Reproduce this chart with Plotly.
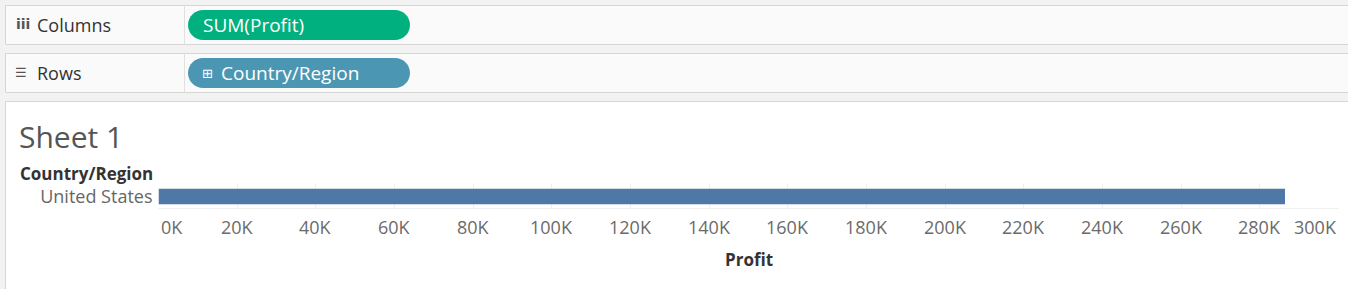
import plotly.graph_objects as go

# ---- data ----
countries = ["United States"]
profit = [286397]
tick_values = [0, 20000, 40000, 60000, 80000, 100000, 120000, 140000,
               160000, 180000, 200000, 220000, 240000, 260000, 280000, 300000]
tick_labels = ["0K", "20K", "40K", "60K", "80K", "100K", "120K", "140K",
               "160K", "180K", "200K", "220K", "240K", "260K", "280K", "300K"]

W, H = 1348, 289
FONT = "Open Sans"


def X(px):
    return px / W


def Y(py):
    return 1 - py / H


def rounded_path(x0, y0, x1, y1, r):
    k = 0.5523 * r
    pts = []
    pts.append(f"M {X(x0 + r)},{Y(y0)}")
    pts.append(f"L {X(x1 - r)},{Y(y0)}")
    pts.append(f"C {X(x1 - r + k)},{Y(y0)} {X(x1)},{Y(y0 + r - k)} {X(x1)},{Y(y0 + r)}")
    pts.append(f"L {X(x1)},{Y(y1 - r)}")
    pts.append(f"C {X(x1)},{Y(y1 - r + k)} {X(x1 - r + k)},{Y(y1)} {X(x1 - r)},{Y(y1)}")
    pts.append(f"L {X(x0 + r)},{Y(y1)}")
    pts.append(f"C {X(x0 + r - k)},{Y(y1)} {X(x0)},{Y(y1 - r + k)} {X(x0)},{Y(y1 - r)}")
    pts.append(f"L {X(x0)},{Y(y0 + r)}")
    pts.append(f"C {X(x0)},{Y(y0 + r - k)} {X(x0 + r - k)},{Y(y0)} {X(x0 + r)},{Y(y0)}")
    pts.append("Z")
    return " ".join(pts)


fig = go.Figure()
fig.add_trace(go.Bar(
    x=profit, y=countries, orientation="h",
    marker=dict(color="#4e79a7", line=dict(width=0)),
    width=0.62, hoverinfo="skip",
))

BORDER = "#d6d6d6"
shapes = []
# shelves
for (t, b) in [(5, 44), (53, 92)]:
    shapes.append(dict(type="rect", xref="paper", yref="paper",
                       x0=X(5.5), x1=X(1360), y0=Y(t + 0.5), y1=Y(b + 0.5),
                       fillcolor="#fafafa", line=dict(color=BORDER, width=1), layer="below"))
    shapes.append(dict(type="line", xref="paper", yref="paper",
                       x0=X(184.5), x1=X(184.5), y0=Y(t + 0.5), y1=Y(b + 0.5),
                       line=dict(color="#e0e0e0", width=1)))
# sheet panel
shapes.append(dict(type="rect", xref="paper", yref="paper",
                   x0=X(5.5), x1=X(1360), y0=Y(101.5), y1=Y(300),
                   fillcolor="#ffffff", line=dict(color=BORDER, width=1), layer="below"))
# pills
shapes.append(dict(type="path", xref="paper", yref="paper",
                   path=rounded_path(188, 10, 410, 40, 15),
                   fillcolor="#00b17f", line=dict(width=0)))
shapes.append(dict(type="path", xref="paper", yref="paper",
                   path=rounded_path(188, 58, 410, 88, 15),
                   fillcolor="#4b97b3", line=dict(width=0)))

annotations = []


def txt(text, x, y, size, color, xanchor="left", bold=False, family=FONT):
    annotations.append(dict(
        text=f"<b>{text}</b>" if bold else text,
        xref="paper", yref="paper", x=X(x), y=Y(y),
        xanchor=xanchor, yanchor="middle", showarrow=False,
        font=dict(family=family, size=size, color=color)))


txt("iii", 14, 24, 14, "#555", bold=True, family="DejaVu Sans")
txt("Columns", 35, 25, 18, "#333")
txt("☰", 13, 72, 13, "#555", family="DejaVu Sans")
txt("Rows", 35, 73, 18, "#333")
txt("SUM(Profit)", 201, 25, 19, "#ffffff")
txt("⊞", 200, 73, 13, "#ffffff", family="DejaVu Sans")
txt("Country/Region", 219, 73, 19, "#ffffff")
txt("Sheet 1", 17, 137, 30, "#555555")
txt("Country/Region", 18, 173, 17, "#333333", bold=True)
txt("Profit", 749, 259, 17, "#333333", xanchor="center", bold=True)

# tick labels drawn on the x scale
for i, (v, lab) in enumerate(zip(tick_values, tick_labels)):
    xa = "center"
    if i == 0:
        xa = "left"
    elif i == len(tick_values) - 1:
        xa = "right"
    annotations.append(dict(
        text=lab, xref="x", yref="paper", x=v, y=Y(227),
        xanchor=xa, yanchor="middle", showarrow=False,
        font=dict(family=FONT, size=18, color="#6b6b6b")))

fig.update_layout(
    width=W, height=H,
    margin=dict(l=0, r=0, t=0, b=0),
    paper_bgcolor="#f2f2f2",
    plot_bgcolor="rgba(0,0,0,0)",
    showlegend=False,
    shapes=shapes,
    annotations=annotations,
    xaxis=dict(
        domain=[X(158.5), X(1338.5)],
        range=[0, 300000],
        tickvals=tick_values, showticklabels=False,
        showgrid=True, gridcolor="#efefef", gridwidth=1,
        zeroline=False, showline=False, ticks="", fixedrange=True,
    ),
    yaxis=dict(
        domain=[Y(209), Y(184)],
        showgrid=False, zeroline=False, ticks="",
        showline=False, ticklabelstandoff=5,
        tickfont=dict(family=FONT, size=18, color="#666666"),
        fixedrange=True,
    ),
)
fig.add_shape(type="line", xref="paper", yref="paper",
              x0=X(158.5), x1=X(1338.5), y0=Y(208.5), y1=Y(208.5),
              line=dict(color="#efefef", width=1))

fig.write_html("out.html")
